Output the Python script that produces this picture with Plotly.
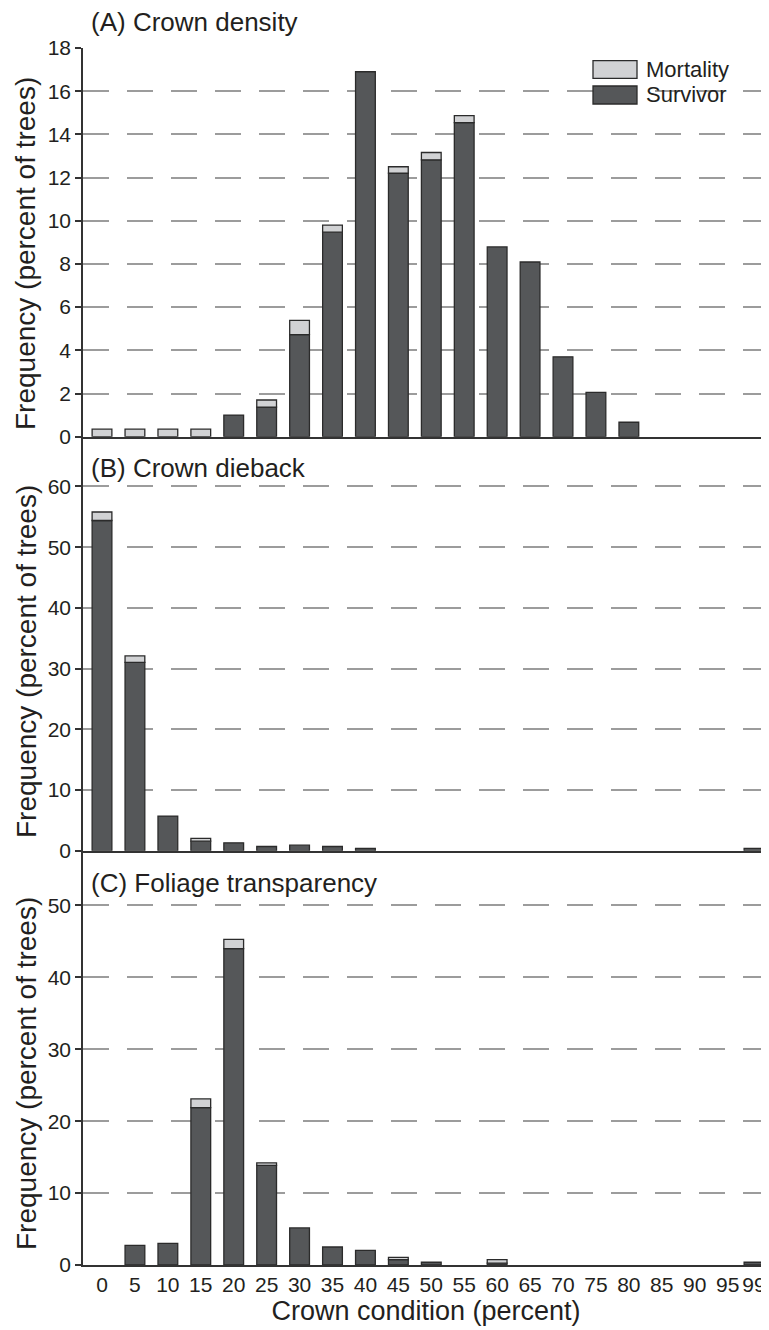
import plotly.graph_objects as go

# ---------------- data ----------------
categories = [0, 5, 10, 15, 20, 25, 30, 35, 40, 45, 50, 55, 60, 65, 70, 75, 80, 85, 90, 95, 99]
tick_labels = [str(c) for c in categories]

# (A) Crown density
density_survivor = [0, 0, 0, 0, 1.0, 1.37, 4.73, 9.47, 16.9, 12.2, 12.82, 14.54, 8.79, 8.09, 3.7, 2.05, 0.67, 0, 0, 0, 0]
density_mortality = [0.35, 0.35, 0.35, 0.35, 0, 0.33, 0.66, 0.33, 0, 0.3, 0.34, 0.33, 0, 0, 0, 0, 0, 0, 0, 0, 0]

# (B) Crown dieback
dieback_survivor = [54.4, 31.05, 5.72, 1.6, 1.32, 0.72, 0.94, 0.72, 0.39, 0, 0, 0, 0, 0, 0, 0, 0, 0, 0, 0, 0.4]
dieback_mortality = [1.4, 1.05, 0, 0.44, 0, 0, 0, 0, 0, 0, 0, 0, 0, 0, 0, 0, 0, 0, 0, 0, 0]

# (C) Foliage transparency
transp_survivor = [0, 2.73, 3.0, 21.9, 44.0, 13.85, 5.15, 2.5, 2.03, 0.74, 0.38, 0, 0.25, 0, 0, 0, 0, 0, 0, 0, 0.38]
transp_mortality = [0, 0, 0, 1.2, 1.3, 0.35, 0, 0, 0, 0.32, 0, 0, 0.5, 0, 0, 0, 0, 0, 0, 0, 0]

panel_titles = ["(A) Crown density", "(B) Crown dieback", "(C) Foliage transparency"]
series_names = ["Mortality", "Survivor"]
y_title = "Frequency (percent of trees)"
x_title = "Crown condition (percent)"

# ---------------- styling ----------------
OFF = 8                       # page body margin of the html page
W, H = 769 - OFF, 1330 - OFF
ML, MR, MT, MB = 83 - OFF, 0, 48 - OFF, 65
PW, PH = W - ML - MR, H - MT - MB
FONT = "Liberation Sans, Arial, Helvetica, sans-serif"
TXT = "#231f20"
DARK = "#555759"
LIGHT = "#d1d2d4"
EDGE = "#2b2b2b"
AXC = "#333333"
GRID = "#9c9c9c"

def px_x(px):
    # page pixel -> paper x
    return (px - OFF - ML) / PW

def px_y(py):
    # page pixel -> paper y
    return (H - MB - (py - OFF)) / PH

def nz(vals):
    # empty classes are not drawn at all
    return [v if v > 0 else None for v in vals]

fig = go.Figure()

panels = [
    (density_survivor, density_mortality, "x", "y"),
    (dieback_survivor, dieback_mortality, "x2", "y2"),
    (transp_survivor, transp_mortality, "x3", "y3"),
]
for surv, mort, xa, ya in panels:
    fig.add_trace(go.Bar(x=categories, y=nz(surv), name=series_names[1], width=3,
                         marker=dict(color=DARK, line=dict(color=EDGE, width=1.3)),
                         xaxis=xa, yaxis=ya, showlegend=False))
    fig.add_trace(go.Bar(x=categories, y=nz(mort), base=surv, name=series_names[0], width=3,
                         marker=dict(color=LIGHT, line=dict(color=EDGE, width=1.3)),
                         xaxis=xa, yaxis=ya, showlegend=False))

xr = [-2.885, 101.28]
common_x = dict(range=xr, showline=True, linecolor=AXC, linewidth=1.5, showgrid=False,
                zeroline=False, ticks="", tickvals=categories, ticktext=tick_labels,
                automargin=False,
                tickfont=dict(size=21, color=TXT, family=FONT))
common_y = dict(showline=True, linecolor=AXC, linewidth=1.5, ticks="outside", ticklen=6,
                tickwidth=1.5, tickcolor=AXC, showgrid=True, gridcolor=GRID, gridwidth=1.5,
                griddash="26px,18px", zeroline=False, automargin=False,
                tickfont=dict(size=21, color=TXT, family=FONT))

fig.update_layout(
    width=W, height=H,
    margin=dict(l=ML, r=MR, t=MT, b=MB, autoexpand=False),
    paper_bgcolor="white", plot_bgcolor="white",
    barmode="overlay",
    showlegend=False,
    font=dict(family=FONT, color=TXT),
    xaxis=dict(common_x, anchor="y", showticklabels=False),
    xaxis2=dict(common_x, anchor="y2", matches="x", showticklabels=False),
    xaxis3=dict(common_x, anchor="y3", matches="x", showticklabels=True,
                title=dict(text=x_title, font=dict(size=27, color=TXT, family=FONT), standoff=6)),
    yaxis=dict(common_y, domain=[0.6806, 1.0], range=[0, 18], tickvals=list(range(0, 19, 2)), anchor="x"),
    yaxis2=dict(common_y, domain=[0.3403, 0.6806], range=[0, 68.2], tickvals=list(range(0, 61, 10)), anchor="x2"),
    yaxis3=dict(common_y, domain=[0.0, 0.3403], range=[0, 57.6], tickvals=list(range(0, 51, 10)), anchor="x3"),
)

# y-axis titles (one per panel)
for ypx in [254, 662, 1074]:
    fig.add_annotation(text=y_title, xref="paper", yref="paper", x=px_x(26), y=px_y(ypx),
                       xanchor="center", yanchor="middle", textangle=-90, showarrow=False,
                       borderpad=0, font=dict(size=28, color=TXT, family=FONT))

# panel titles
for txt, ypx in zip(panel_titles, [22, 468, 883]):
    fig.add_annotation(text=txt, xref="paper", yref="paper", x=px_x(89), y=px_y(ypx),
                       xanchor="left", yanchor="middle", showarrow=False,
                       font=dict(size=26, color=TXT, family=FONT))

# legend (drawn manually to match the wide swatches)
for name, color, top, bot in [(series_names[0], LIGHT, 60.7, 78.3), (series_names[1], DARK, 86, 104)]:
    fig.add_shape(type="rect", xref="paper", yref="paper",
                  x0=px_x(593), x1=px_x(637), y0=px_y(bot), y1=px_y(top),
                  fillcolor=color, line=dict(color=EDGE, width=1.3), layer="above")
    fig.add_annotation(text=name, xref="paper", yref="paper", x=px_x(644), y=px_y((top + bot) / 2),
                       xanchor="left", yanchor="middle", showarrow=False,
                       font=dict(size=22, color=TXT, family=FONT))

fig.write_html("out.html")
